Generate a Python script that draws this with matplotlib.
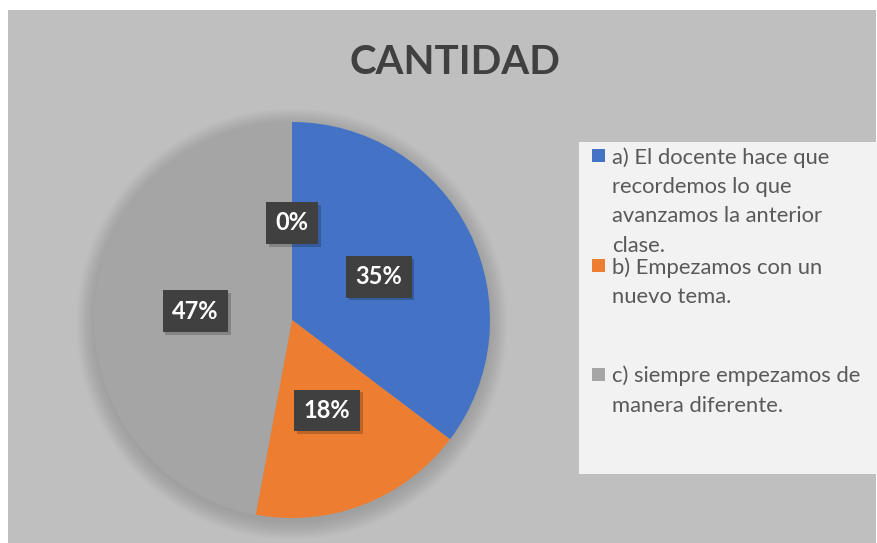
import matplotlib
matplotlib.use("Agg")
import matplotlib.pyplot as plt
from matplotlib.patches import Rectangle, Circle
import matplotlib.patheffects as pe

# ---- data ----
title = "CANTIDAD"
categories = [
    "a) El docente hace que\nrecordemos lo que\navanzamos la anterior\nclase.",
    "b) Empezamos con un\nnuevo tema.",
    "c) siempre empezamos de\nmanera diferente.",
    "",
]
values = [6, 3, 8, 0]
colors = ["#4472C4", "#ED7D31", "#A5A5A5", "#FFC000"]
legend_count = 3

W, H = 877, 543
fig = plt.figure(figsize=(W / 100, H / 100), dpi=100)
fig.patch.set_facecolor("white")

def fx(px):
    return px / W

def fy(py):  # py measured from top
    return 1 - py / H

# gray chart area
fig.patches.append(Rectangle((fx(8), 0), fx(876) - fx(8), fy(10), transform=fig.transFigure,
                             facecolor="#BFBFBF", edgecolor="none", zorder=0))
# legend panel
fig.patches.append(Rectangle((fx(579), fy(474)), 1 - fx(579), fy(142) - fy(474), transform=fig.transFigure,
                             facecolor="#F2F2F2", edgecolor="none", zorder=1))

# title
fig.text(fx(455), fy(62), title, ha="center", va="center", fontsize=29, fontweight="bold",
         color="#404040", family="Lato")

# pie axes: center (292,320), radius 198 px
R = 198
cx, cy = 292, 320
lim = 1.1
side = 2 * lim * R
ax = fig.add_axes([fx(cx - side / 2), fy(cy + side / 2), side / W, side / H])
ax.set_zorder(2)

# soft shadow halo
for i in range(12):
    r = 1.0 + 0.008 * i
    ax.add_patch(Circle((0.0, -0.02), r, facecolor="black", edgecolor="none", alpha=0.012,
                        zorder=0, clip_on=False))

wedges, texts, autotexts = ax.pie(
    values, colors=colors, startangle=90, counterclock=False,
    autopct="%.0f%%", pctdistance=0.49,
    wedgeprops=dict(linewidth=0),
    textprops=dict(color="white", fontsize=17, fontweight="bold", family="Lato"),
)
for w in wedges:
    w.set_zorder(1)
for t in autotexts:
    t.set_zorder(5)
    t.set_bbox(dict(boxstyle="square,pad=0.4", facecolor="#404040", edgecolor="none"))
    t.get_bbox_patch().set_path_effects([
        pe.SimplePatchShadow(offset=(2, -2), shadow_rgbFace="black", alpha=0.2),
        pe.Normal(),
    ])
ax.set_xlim(-lim, lim)
ax.set_ylim(-lim, lim)
ax.set_aspect("equal")
ax.axis("off")

# legend
entry_top = [149, 259, 368]  # top of first line per entry (px)
line_h = 29.5
for i in range(legend_count):
    y0 = entry_top[i]
    fig.patches.append(Rectangle((fx(592), fy(y0 + 13)), fx(13), 13 / H, transform=fig.transFigure,
                                 facecolor=colors[i], edgecolor="none", zorder=3))
    for j, line in enumerate(categories[i].split("\n")):
        fig.text(fx(612), fy(y0 + 14.5 + j * line_h), line, ha="left", va="baseline",
                 fontsize=15.8, color="#595959", family="Lato", zorder=4)

fig.savefig("out.png", dpi=100, facecolor=fig.get_facecolor())
